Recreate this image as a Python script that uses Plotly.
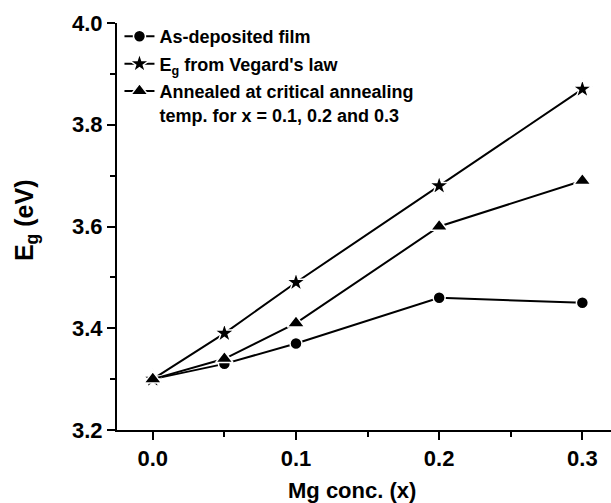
import plotly.graph_objects as go

x_vals = [0.0, 0.05, 0.1, 0.2, 0.3]
as_deposited = [3.30, 3.33, 3.37, 3.46, 3.45]
vegard = [3.30, 3.39, 3.49, 3.68, 3.87]
annealed = [3.30, 3.34, 3.41, 3.60, 3.69]

names = ["As-deposited film", "E<sub>g</sub> from Vegard's law",
         "Annealed at critical annealing<br>temp. for x = 0.1, 0.2 and 0.3"]
x_ticks = [0.0, 0.1, 0.2, 0.3]
x_ticklabels = ["0.0", "0.1", "0.2", "0.3"]
y_ticks = [3.2, 3.4, 3.6, 3.8, 4.0]
y_ticklabels = ["3.2", "3.4", "3.6", "3.8", "4.0"]
x_title = "Mg conc. (x)"
y_title = "E<sub>g</sub> (eV)"

FONT = "Liberation Sans, Arial, sans-serif"

fig = go.Figure()
series = [(as_deposited, "circle", 12), (vegard, "star", 15), (annealed, "triangle-up", 15)]
for i, ((ys, sym, sz), nm) in enumerate(zip(series, names)):
    fig.add_trace(go.Scatter(
        x=x_vals, y=ys, mode="lines+markers", name=nm, legendgroup=f"g{i}",
        line=dict(color="black", width=2),
        marker=dict(symbol=sym, size=sz, color="black", line=dict(color="white", width=1.5)),
    ))

fig.update_layout(
    width=611, height=503,
    margin=dict(l=117, r=0, t=23, b=73),
    paper_bgcolor="white", plot_bgcolor="white",
    font=dict(family=FONT, color="black"),
    showlegend=True,
    legend=dict(x=0.005, y=1.012, xanchor="left", yanchor="top", valign="top",
                font=dict(size=18, family=FONT, weight="bold"),
                bgcolor="rgba(0,0,0,0)", tracegroupgap=1, itemwidth=30),
    xaxis=dict(range=[-0.025, 0.32], tickvals=x_ticks, ticktext=x_ticklabels,
               showline=True, linecolor="black", linewidth=2, showgrid=False, zeroline=False,
               ticks="outside", ticklen=8, tickwidth=2, tickcolor="black",
               tickfont=dict(size=22, family=FONT, weight="bold"),
               minor=dict(tickvals=[0.05, 0.15, 0.25], ticks="outside", ticklen=5, tickwidth=2, tickcolor="black")),
    yaxis=dict(range=[3.2, 4.0], tickvals=y_ticks, ticktext=y_ticklabels,
               showline=True, linecolor="black", linewidth=2, showgrid=False, zeroline=False,
               ticks="outside", ticklen=8, tickwidth=2, tickcolor="black",
               tickfont=dict(size=22, family=FONT, weight="bold"),
               minor=dict(tickvals=[3.3, 3.5, 3.7, 3.9], ticks="outside", ticklen=5, tickwidth=2, tickcolor="black")),
    annotations=[
        dict(text=x_title, xref="paper", yref="paper", x=0.4757, y=-0.148,
             xanchor="center", yanchor="middle", showarrow=False,
             font=dict(size=22, family=FONT, weight="bold")),
        dict(text=y_title, xref="paper", yref="paper", x=-0.184, y=0.516,
             xanchor="center", yanchor="middle", showarrow=False, textangle=-90,
             font=dict(size=25, family=FONT, weight="bold")),
    ],
)

fig.write_html("out.html")
